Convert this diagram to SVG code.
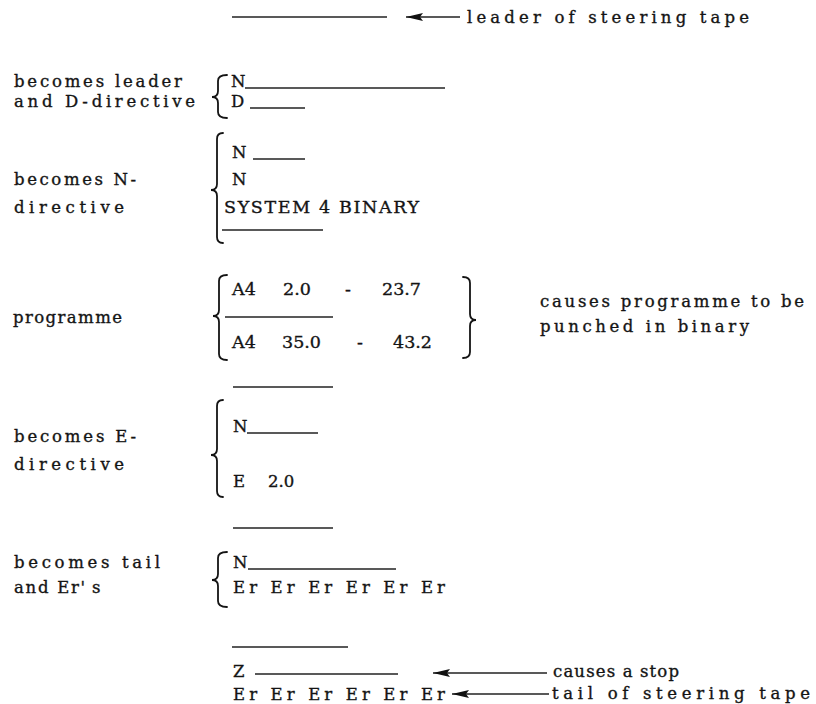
<svg xmlns="http://www.w3.org/2000/svg" width="816" height="704" viewBox="0 0 816 704">
<style>
text{font-family:"DejaVu Serif","Liberation Serif",serif;font-size:16.5px;fill:#141414;stroke:#141414;stroke-width:0.35;}
.big{font-size:17.5px;}
.rule{stroke:#222;stroke-width:1.3;fill:none;}
.brace{stroke:#141414;stroke-width:1.8;fill:none;stroke-linecap:round;}
.conn{stroke:#222;stroke-width:1.3;fill:none;}
</style>
<defs>
<marker id="ah" markerUnits="userSpaceOnUse" markerWidth="18" markerHeight="10" refX="17" refY="4" orient="auto-start-reverse">
<path d="M0,0 L17,4 L0,8 L3,4 Z" fill="#111"/>
</marker>
</defs>
<rect width="816" height="704" fill="#fff"/>

<g id="leader">
<line class="rule" x1="232" y1="17" x2="387" y2="17"/>
<text x="467" y="23" textLength="282">leader of steering tape</text>
</g>

<g id="group-leader-d">
<text x="14" y="87" textLength="168">becomes leader</text>
<text x="14" y="107" textLength="181">and D-directive</text>
<path class="brace" d="M227 75 Q218 75 218 81 L218 91 Q218 97 212 97 Q218 97 218 103 L218 112 Q218 118 227 118"/>
<text x="231" y="87">N</text>
<line class="rule" x1="245" y1="88" x2="445" y2="88"/>
<text x="231" y="107">D</text>
<line class="rule" x1="250" y1="108" x2="305" y2="108"/>
</g>

<g id="group-n-directive">
<text x="14" y="185" textLength="122">becomes N-</text>
<text x="14" y="213" textLength="110">directive</text>
<path class="brace" d="M223 133 Q217 133 217 139 L217 184 Q217 190 211 190 Q217 190 217 196 L217 237 Q217 243 223 243"/>
<text x="232" y="158">N</text>
<line class="rule" x1="253" y1="159" x2="305" y2="159"/>
<text x="232" y="185">N</text>
<text class="big" x="224" y="213" textLength="195">SYSTEM 4 BINARY</text>
<line class="rule" x1="222" y1="230" x2="323" y2="230"/>
</g>

<g id="group-programme">
<text x="13" y="323" textLength="109">programme</text>
<path class="brace" d="M227 275 Q219 275 219 281 L219 310 Q219 316 213 316 Q219 316 219 322 L219 354 Q219 360 227 360"/>
<text class="big" x="232" y="295">A4</text>
<text class="big" x="283" y="295">2.0</text>
<text class="big" x="345" y="295">-</text>
<text class="big" x="382" y="295">23.7</text>
<line class="rule" x1="225" y1="317" x2="333" y2="317"/>
<text class="big" x="232" y="348">A4</text>
<text class="big" x="282" y="348">35.0</text>
<text class="big" x="357" y="348">-</text>
<text class="big" x="393" y="348">43.2</text>
<path class="brace" d="M463 277 Q470 277 470 283 L470 314 Q470 320 476 320 Q470 320 470 326 L470 352 Q470 358 463 358"/>
<text x="540" y="307" textLength="264">causes programme to be</text>
<text x="540" y="332" textLength="209">punched in binary</text>
</g>

<g id="group-e-directive">
<line class="rule" x1="233" y1="387" x2="333" y2="387"/>
<text x="14" y="442" textLength="122">becomes E-</text>
<text x="14" y="470" textLength="110">directive</text>
<path class="brace" d="M223 400 Q217 400 217 406 L217 449 Q217 455 211 455 Q217 455 217 461 L217 491 Q217 497 223 497"/>
<text x="233" y="432">N</text>
<line class="rule" x1="247" y1="433" x2="318" y2="433"/>
<text x="233" y="487">E <tspan x="268">2.0</tspan></text>
<line class="rule" x1="233" y1="528" x2="333" y2="528"/>
</g>

<g id="group-tail">
<text x="14" y="568" textLength="146">becomes tail</text>
<text x="14" y="593"><tspan textLength="78">and Er' </tspan><tspan x="92">s</tspan></text>
<path class="brace" d="M227 552 Q218 552 218 558 L218 574 Q218 580 212 580 Q218 580 218 586 L218 601 Q218 607 227 607"/>
<text x="233" y="568">N</text>
<line class="rule" x1="248" y1="569" x2="396" y2="569"/>
<text x="233" y="593" textLength="212">Er Er Er Er Er Er</text>
</g>

<g id="group-stop">
<line class="rule" x1="232" y1="647" x2="348" y2="647"/>
<text x="233" y="677">Z</text>
<line class="rule" x1="255" y1="674" x2="398" y2="674"/>
<text x="233" y="700" textLength="212">Er Er Er Er Er Er</text>
</g>

<g id="label-stop">
<text x="553" y="677" textLength="126">causes a stop</text>
</g>
<g id="label-tail">
<text x="552" y="699" textLength="258">tail of steering tape</text>
</g>

<g id="connectors">
<line class="conn" x1="406" y1="17" x2="460" y2="17" marker-start="url(#ah)"/>
<line class="conn" x1="433" y1="673" x2="547" y2="673" marker-start="url(#ah)"/>
<line class="conn" x1="452" y1="694" x2="549" y2="694" marker-start="url(#ah)"/>
</g>
</svg>
